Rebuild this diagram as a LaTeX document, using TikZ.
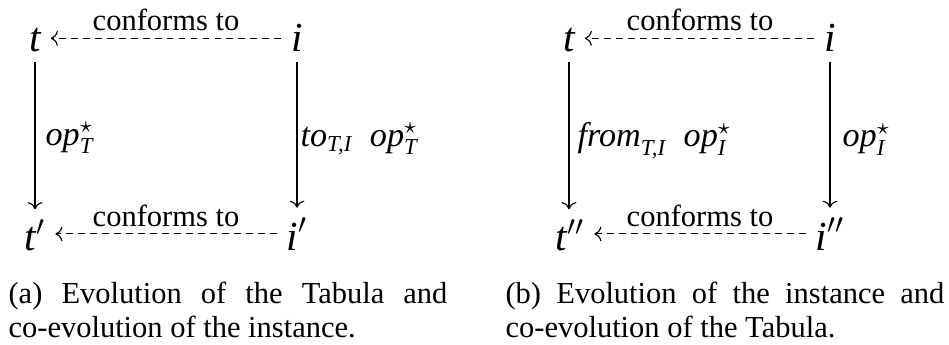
\documentclass[tikz,border=0pt]{standalone}
\usepackage{amsmath}
\usepackage{fontspec}
\setmainfont{Liberation Serif}
\usetikzlibrary{arrows.meta}
\newcommand{\basefont}{\fontsize{10.7pt}{12.1pt}\selectfont}
\newcommand{\objfont}{\fontsize{14.5pt}{16pt}\selectfont}
\newcommand{\lblfont}{\fontsize{12pt}{14pt}\selectfont}
\begin{document}
\begin{tikzpicture}[x=0.3509pt,y=-0.3509pt,
  font=\basefont,
  obj/.style={font=\objfont, anchor=base},
  lbl/.style={font=\lblfont, anchor=base west, inner sep=0pt},
  conf/.style={anchor=base, inner sep=0pt},
  evo/.style={->},
  rel/.style={->, dash pattern=on 2.4pt off 1.8pt},
  capt/.style={anchor=north west, inner sep=0pt, text width=154pt, align=justify}]
\useasboundingbox (0,0) rectangle (949,345);
% left diagram
\node[obj] (t1) at (35,52) {$\textit{t}$};
\node[obj] (i1) at (297,52) {$\textit{i}$};
\node[obj] (t2) at (35,250) {$\textit{t}'$};
\node[obj] (i2) at (297,250) {$\textit{i}'$};
\draw[rel] (i1.west) -- (t1.east |- i1.west);
\draw[rel] (i2.west) -- (t2.east |- i2.west);
\draw[evo] (t1.south) -- (t1.south |- t2.north);
\draw[evo] (i1.south) -- (i1.south |- i2.north);
\node[conf] (c1) at (166,30) {conforms to};
\node[conf] (c2) at (166,227) {conforms to};
\node[lbl] (l1) at (45,145) {$\textit{op}^{\star}_{\textit{T}}$};
\node[lbl] (l2) at (300,146) {$\textit{to}_{\textit{T,I}}\hspace{6pt}\textit{op}^{\star}_{\textit{T}}$};
% right diagram
\node[obj] (t3) at (569,52) {$\textit{t}$};
\node[obj] (i3) at (830,52) {$\textit{i}$};
\node[obj] (t4) at (570,250) {$\textit{t}''$};
\node[obj] (i4) at (830,250) {$\textit{i}''$};
\draw[rel] (i3.west) -- (t3.east |- i3.west);
\draw[rel] (i4.west) -- (t4.east |- i4.west);
\draw[evo] (t3.south) -- (t3.south |- t4.north);
\draw[evo] (i3.south) -- (i3.south |- i4.north);
\node[conf] (c3) at (700,30) {conforms to};
\node[conf] (c4) at (700,227) {conforms to};
\node[lbl] (l3) at (577,147) {$\textit{from}_{\textit{T,I}}\hspace{6pt}\textit{op}^{\star}_{\textit{I}}$};
\node[lbl] (l4) at (842,147) {$\textit{op}^{\star}_{\textit{I}}$};
% captions
\node[capt] (capa) at (8,281) {(a) Evolution of the Tabula and\linebreak co-evolution of the instance.};
\node[capt] (capb) at (505,281) {(b) Evolution of the instance and\linebreak co-evolution of the Tabula.};
\end{tikzpicture}
\end{document}
